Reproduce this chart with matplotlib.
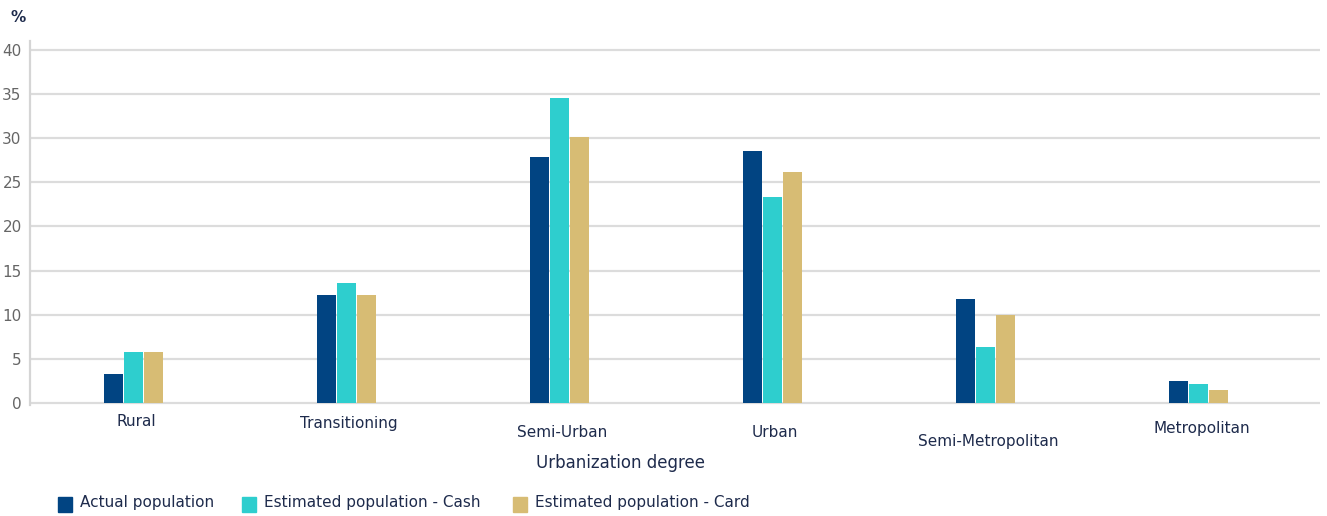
import matplotlib
matplotlib.use("Agg")
import matplotlib.pyplot as plt
from matplotlib.patches import Rectangle
import numpy as np

categories = ["Rural", "Transitioning", "Semi-Urban", "Urban", "Semi-Metropolitan", "Metropolitan"]
actual = [3.3, 12.2, 27.9, 28.5, 11.8, 2.5]
est_cash = [5.8, 13.6, 34.5, 23.3, 6.3, 2.2]
est_card = [5.8, 12.2, 30.1, 26.2, 10.0, 1.45]
series_names = ["Actual population", "Estimated population - Cash", "Estimated population - Card"]
yticks = [0, 5, 10, 15, 20, 25, 30, 35, 40]

colors = ["#014482", "#2ECECE", "#D7BC74"]
text_color = "#1E2B4C"
label_drops = [0, 2, 11, 11, 20, 7]  # px offsets of staggered category labels

fig = plt.figure(figsize=(13.27, 5.16), dpi=100)
W, H = 1327, 516
ax = fig.add_axes([30 / W, 1 - 405 / H, (1320 - 30) / W, (405 - 41) / H])

x = np.arange(len(categories))
bw = 0.089
for i, (vals, c) in enumerate(zip([actual, est_cash, est_card], colors)):
    ax.bar(x + (i - 1) * 0.093, vals, width=bw, color=c, zorder=3, linewidth=0)

ax.set_xlim(-0.485, 5.57)
ax.set_ylim(-0.23, 41)
ax.set_yticks(yticks)
ax.set_yticklabels([str(v) for v in yticks], color="#666666", fontsize=11)
ax.yaxis.grid(True, color="#DCDCDC", linewidth=1.6, zorder=0)
ax.set_axisbelow(True)
for s in ["top", "right", "bottom"]:
    ax.spines[s].set_visible(False)
ax.spines["left"].set_color("#D5D5D5")
ax.spines["left"].set_linewidth(1.6)
ax.tick_params(axis="y", length=0, pad=6)
ax.tick_params(axis="x", length=0)
ax.set_xticks(x)
ax.set_xticklabels([])

# staggered category labels
for xi, cat, d in zip(x, categories, label_drops):
    ax.annotate(cat, xy=(xi, 0), xycoords="data", xytext=(2, -8 - d * 0.72),
                textcoords="offset points", ha="center", va="top",
                fontsize=11, color=text_color)

fig.text(620 / W, 1 - 463 / H, "Urbanization degree", ha="center", va="center",
         fontsize=12, color=text_color)
fig.text(18 / W, 1 - 18 / H, "%", ha="center", va="center", fontsize=11,
         color=text_color, fontweight="bold")

# legend
leg_x = [58, 242, 513]
for lx, name, c in zip(leg_x, series_names, colors):
    fig.patches.append(Rectangle((lx / W, 1 - 512 / H), 14 / W, 15 / H,
                                 transform=fig.transFigure, color=c))
    fig.text((lx + 22) / W, 1 - 503 / H, name, ha="left", va="center",
             fontsize=11, color=text_color)

fig.savefig("out.png", dpi=100)
